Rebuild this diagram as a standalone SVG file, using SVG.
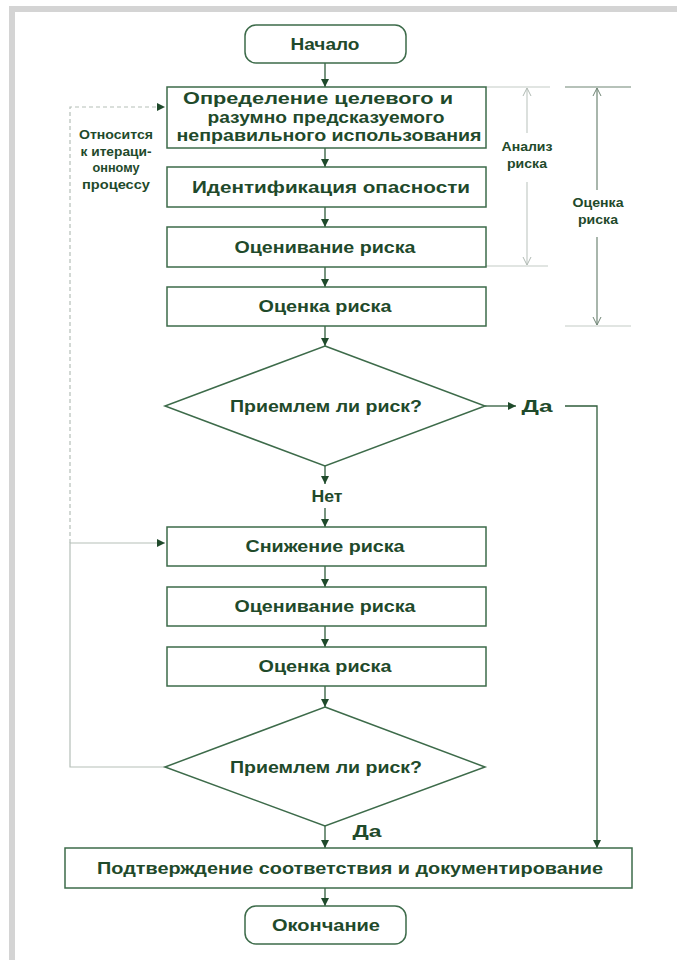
<svg xmlns="http://www.w3.org/2000/svg" width="677" height="960" viewBox="0 0 677 960">
<style>
.box{fill:#fff;stroke:#3d6b4a;stroke-width:1.5}
.t{font-family:"Liberation Sans",Arial,sans-serif;font-weight:bold;font-size:16.5px;fill:#1f4a2b;text-anchor:middle;dominant-baseline:central}
.s{font-family:"Liberation Sans",Arial,sans-serif;font-weight:bold;font-size:12.5px;fill:#1f4a2b;text-anchor:middle;dominant-baseline:central}
.c{fill:none;stroke:#2f5c3b;stroke-width:1.3}
.fb{fill:none;stroke:#b5bfb8;stroke-width:1.2}
.dim{fill:none;stroke:#c4cbc6;stroke-width:1.2}
.dim2{fill:none;stroke:#6f8575;stroke-width:1.2}
</style>
<defs>
<marker id="ah" markerWidth="8" markerHeight="8" refX="8" refY="4" orient="auto" markerUnits="userSpaceOnUse">
<path d="M0,0 L8,4 L0,8 Z" fill="#1f4a2b"/>
</marker>
<marker id="oa" markerWidth="10" markerHeight="10" refX="9" refY="5" orient="auto" markerUnits="userSpaceOnUse">
<path d="M1,1 L9,5 L1,9" fill="none" stroke="#b0bab3" stroke-width="1"/>
</marker>
<marker id="ob" markerWidth="10" markerHeight="10" refX="9" refY="5" orient="auto" markerUnits="userSpaceOnUse">
<path d="M1,1 L9,5 L1,9" fill="none" stroke="#6f8575" stroke-width="1"/>
</marker>
</defs>
<rect x="0" y="0" width="677" height="960" fill="#fff"/>
<path d="M9,960 V6 H677 V12 H15 V960 Z" fill="#d4d4d4"/>

<g id="connectors">
<line class="c" x1="325" y1="63" x2="325" y2="87" marker-end="url(#ah)"/>
<line class="c" x1="325" y1="148" x2="325" y2="167" marker-end="url(#ah)"/>
<line class="c" x1="325" y1="207" x2="325" y2="227" marker-end="url(#ah)"/>
<line class="c" x1="325" y1="267" x2="325" y2="287" marker-end="url(#ah)"/>
<line class="c" x1="325" y1="326" x2="325" y2="346" marker-end="url(#ah)"/>
<line class="c" x1="325" y1="466" x2="325" y2="484" marker-end="url(#ah)"/>
<line class="c" x1="325" y1="508" x2="325" y2="527" marker-end="url(#ah)"/>
<line class="c" x1="325" y1="566" x2="325" y2="587" marker-end="url(#ah)"/>
<line class="c" x1="325" y1="626" x2="325" y2="647" marker-end="url(#ah)"/>
<line class="c" x1="325" y1="686" x2="325" y2="707" marker-end="url(#ah)"/>
<line class="c" x1="325" y1="826" x2="325" y2="848" marker-end="url(#ah)"/>
<line class="c" x1="325" y1="888" x2="325" y2="906" marker-end="url(#ah)"/>
<line class="c" x1="485" y1="406" x2="516" y2="406" marker-end="url(#ah)"/>
<polyline class="c" points="565,406 597,406 597,848" marker-end="url(#ah)"/>
<polyline class="fb" points="165,767 70,767 70,543 165,543" marker-end="url(#ah)"/>
<polyline class="fb" points="70,543 70,107 165,107" stroke-dasharray="4,3" marker-end="url(#ah)"/>
<line class="dim" x1="486" y1="87" x2="550" y2="87"/>
<line class="dim" x1="486" y1="266" x2="548" y2="266"/>
<line class="dim" x1="527" y1="133" x2="527" y2="88" marker-end="url(#oa)"/>
<line class="dim" x1="527" y1="182" x2="527" y2="265" marker-end="url(#oa)"/>
<line class="dim2" x1="565" y1="87" x2="631" y2="87"/>
<line class="dim" x1="565" y1="326" x2="631" y2="326"/>
<line class="dim2" x1="597" y1="190" x2="597" y2="88" marker-end="url(#ob)"/>
<line class="dim2" x1="597" y1="237" x2="597" y2="325" marker-end="url(#ob)"/>
</g>

<g id="start"><rect class="box" x="245" y="25" width="161" height="38" rx="11"/><text class="t" x="325" y="44" textLength="69" lengthAdjust="spacingAndGlyphs">Начало</text></g>
<g id="define"><rect class="box" x="167" y="87" width="319" height="61"/>
<text class="t" x="318" y="98" textLength="270" lengthAdjust="spacingAndGlyphs">Определение целевого  и</text>
<text class="t" x="326" y="116.5" textLength="237" lengthAdjust="spacingAndGlyphs">разумно предсказуемого</text>
<text class="t" x="329" y="135" textLength="305" lengthAdjust="spacingAndGlyphs">неправильного использования</text></g>
<g id="identify"><rect class="box" x="167" y="167" width="319" height="40"/><text class="t" x="331" y="187" textLength="278" lengthAdjust="spacingAndGlyphs">Идентификация опасности</text></g>
<g id="estimate1"><rect class="box" x="167" y="227" width="319" height="40"/><text class="t" x="325" y="247" textLength="181" lengthAdjust="spacingAndGlyphs">Оценивание риска</text></g>
<g id="evaluate1"><rect class="box" x="167" y="287" width="319" height="39"/><text class="t" x="325" y="306" textLength="133" lengthAdjust="spacingAndGlyphs">Оценка риска</text></g>
<g id="decision1"><polygon class="box" points="325,346 485,406 325,466 165,406"/><text class="t" x="326" y="406" textLength="192" lengthAdjust="spacingAndGlyphs">Приемлем ли риск?</text></g>
<g id="yes1"><text class="t" x="537" y="406" textLength="31" lengthAdjust="spacingAndGlyphs">Да</text></g>
<g id="no1"><text class="t" x="327" y="496" textLength="31" lengthAdjust="spacingAndGlyphs">Нет</text></g>
<g id="reduce"><rect class="box" x="167" y="527" width="319" height="39"/><text class="t" x="325" y="546" textLength="159" lengthAdjust="spacingAndGlyphs">Снижение риска</text></g>
<g id="estimate2"><rect class="box" x="167" y="587" width="319" height="39"/><text class="t" x="325" y="606" textLength="181" lengthAdjust="spacingAndGlyphs">Оценивание риска</text></g>
<g id="evaluate2"><rect class="box" x="167" y="647" width="319" height="39"/><text class="t" x="325" y="666" textLength="133" lengthAdjust="spacingAndGlyphs">Оценка риска</text></g>
<g id="decision2"><polygon class="box" points="325,707 485,767 325,826 165,767"/><text class="t" x="326" y="767" textLength="192" lengthAdjust="spacingAndGlyphs">Приемлем ли риск?</text></g>
<g id="yes2"><text class="t" x="367" y="831" textLength="29" lengthAdjust="spacingAndGlyphs">Да</text></g>
<g id="confirm"><rect class="box" x="65" y="848" width="567" height="40"/><text class="t" x="350" y="868" textLength="506" lengthAdjust="spacingAndGlyphs">Подтверждение соответствия и документирование</text></g>
<g id="end"><rect class="box" x="245" y="906" width="161" height="38" rx="11"/><text class="t" x="326" y="925" textLength="108" lengthAdjust="spacingAndGlyphs">Окончание</text></g>
<g id="iter-note">
<text class="s" x="116" y="135" textLength="74" lengthAdjust="spacingAndGlyphs">Относится</text>
<text class="s" x="116" y="152" textLength="71" lengthAdjust="spacingAndGlyphs">к итераци-</text>
<text class="s" x="116" y="168" textLength="47" lengthAdjust="spacingAndGlyphs">онному</text>
<text class="s" x="116" y="185" textLength="68" lengthAdjust="spacingAndGlyphs">процессу</text></g>
<g id="analysis-label"><text class="s" x="527" y="147" textLength="51" lengthAdjust="spacingAndGlyphs">Анализ</text><text class="s" x="527" y="164" textLength="40" lengthAdjust="spacingAndGlyphs">риска</text></g>
<g id="assessment-label"><text class="s" x="598" y="203" textLength="51" lengthAdjust="spacingAndGlyphs">Оценка</text><text class="s" x="598" y="220" textLength="40" lengthAdjust="spacingAndGlyphs">риска</text></g>
</svg>
